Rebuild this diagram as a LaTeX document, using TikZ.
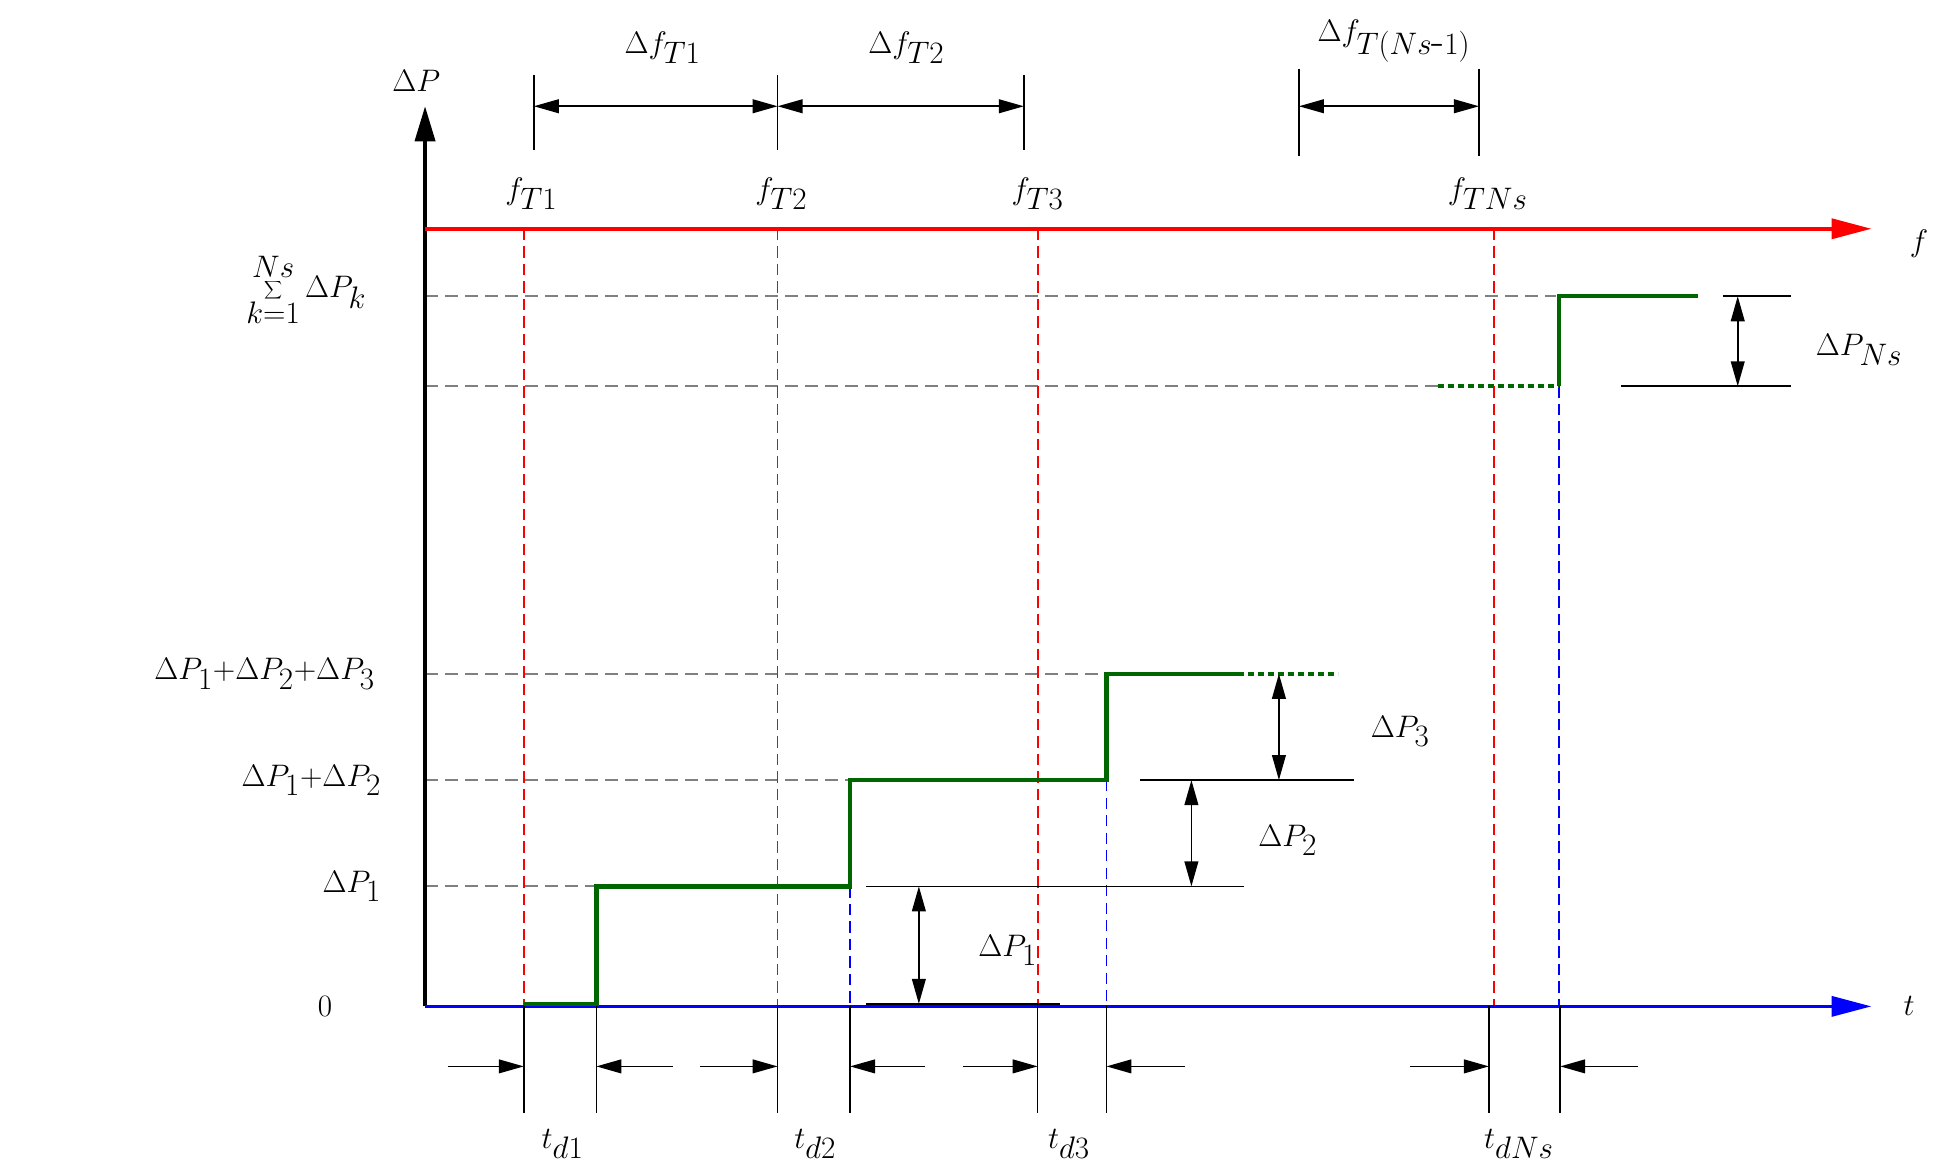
\documentclass[tikz,border=0pt]{standalone}
\usetikzlibrary{arrows.meta}
\begin{document}
\begin{tikzpicture}[x=1pt,y=-1pt,
  lbl/.style={font=\fontsize{34}{38}\selectfont, inner sep=0pt},
  tip/.style={-{Triangle[length=20pt,width=11pt]}},
  dtip/.style={{Triangle[length=20pt,width=11pt]}-{Triangle[length=20pt,width=11pt]}},
  thin/.style={line width=1.3pt,black},
  gdash/.style={gray,line width=1.6pt,dash pattern=on 10pt off 6pt},
  rdash/.style={red,line width=1.4pt,dash pattern=on 9pt off 5pt},
  bdash/.style={blue,line width=1.4pt,dash pattern=on 9pt off 5pt},
  stair/.style={green!40!black,line width=3.5pt},
  dstair/.style={green!40!black,line width=3.5pt,dash pattern=on 5pt off 3pt}]
\useasboundingbox (0,0) rectangle (1559,939);
% gray guides
\draw[gdash] (340,237) -- (1245,237);
\draw[gdash] (340,309) -- (1150,309);
\draw[gdash] (340,539) -- (990,539);
\draw[gdash] (340,624) -- (680,624);
\draw[gdash] (340,709) -- (478,709);
% red dashed
\foreach \x in {419,622,830,1195} \draw[rdash] (\x,183) -- (\x,805);
% blue dashed
\draw[bdash] (680,709) -- (680,805);
\draw[bdash] (885,624) -- (885,805);
\draw[bdash] (1247,309) -- (1247,805);
% axes
\coordinate (o) at (340,805);
\coordinate (ytop) at (340,85);
\coordinate (tend) at (1497,805);
\coordinate (fs) at (340,183);
\coordinate (fend) at (1497,183);
\draw[line width=3pt,-{Triangle[length=28pt,width=16pt]}] (o) -- (ytop);
\draw[blue,line width=3pt,-{Triangle[length=32pt,width=16pt]}] (o) -- (tend);
\draw[red,line width=3pt,-{Triangle[length=32pt,width=16pt]}] (fs) -- (fend);
\node[lbl] (lP) at (333,65) {$\Delta P$};
\node[lbl] (lt) at (1527,805) {$t$};
\node[lbl] (lf) at (1535,195) {$f$};
% staircase
\draw[stair] (419,803) -- (477,803) -- (477,709) -- (680,709) -- (680,624) -- (885,624) -- (885,539) -- (990,539);
\draw[dstair] (990,539) -- (1070,539);
\draw[dstair] (1150,309) -- (1247,309);
\draw[stair] (1247,309) -- (1247,237) -- (1358,237);
% left labels
\node[lbl] (s) at (245,232) {$\displaystyle\sum_{k=1}^{Ns}\Delta P_k$};
\node[lbl,anchor=east] (l3) at (300,539) {$\Delta P_1{+}\Delta P_2{+}\Delta P_3$};
\node[lbl,anchor=east] (l2) at (305,624) {$\Delta P_1{+}\Delta P_2$};
\node[lbl,anchor=east] (l1) at (305,709) {$\Delta P_1$};
\node[lbl] (l0) at (260,805) {$0$};
% f labels
\node[lbl] (f1) at (425,155) {$f_{T1}$};
\node[lbl] (f2) at (625,155) {$f_{T2}$};
\node[lbl] (f3) at (830,155) {$f_{T3}$};
\node[lbl] (fn) at (1190,155) {$f_{TNs}$};
% top dims
\foreach \x in {427,622,819} \draw[thin] (\x,60) -- (\x,120);
\draw[thin] (1039,55) -- (1039,125);
\draw[thin] (1183,55) -- (1183,125);
\coordinate (a1) at (427,85); \coordinate (a2) at (622,85); \coordinate (a3) at (819,85);
\coordinate (a4) at (1039,85); \coordinate (a5) at (1183,85);
\draw[thin,dtip] (a1) -- (a2);
\draw[thin,dtip] (a2) -- (a3);
\draw[thin,dtip] (a4) -- (a5);
\node[lbl] (df1) at (530,38) {$\Delta f_{T1}$};
\node[lbl] (df2) at (725,38) {$\Delta f_{T2}$};
\node[lbl] (dfn) at (1115,33) {$\Delta f_{T(Ns\mbox{-}1)}$};
% right dims
\draw[thin] (693,709) -- (995,709);
\draw[thin] (693,803) -- (848,803);
\draw[thin,dtip] (735,709) -- (735,803);
\node[lbl] (d1) at (806,760) {$\Delta P_1$};
\draw[thin] (912,624) -- (1083,624);
\draw[thin,dtip] (953,624) -- (953,709);
\node[lbl] (d2) at (1030,672) {$\Delta P_2$};
\draw[thin,dtip] (1023,539) -- (1023,624);
\node[lbl] (d3) at (1120,585) {$\Delta P_3$};
\draw[thin] (1378,237) -- (1433,237);
\draw[thin] (1297,309) -- (1433,309);
\draw[thin,dtip] (1390,237) -- (1390,309);
\node[lbl] (dn) at (1487,280) {$\Delta P_{Ns}$};
% bottom
\foreach \x in {419,477,622,680,830,885,1191,1248} \draw[thin] (\x,805) -- (\x,890);
\draw[thin,tip] (358,853) -- (419,853);
\draw[thin,tip] (538,853) -- (477,853);
\draw[thin,tip] (560,853) -- (622,853);
\draw[thin,tip] (740,853) -- (680,853);
\draw[thin,tip] (770,853) -- (830,853);
\draw[thin,tip] (948,853) -- (885,853);
\draw[thin,tip] (1128,853) -- (1191,853);
\draw[thin,tip] (1310,853) -- (1248,853);
\node[lbl] (t1) at (450,915) {$t_{d1}$};
\node[lbl] (t2) at (652,915) {$t_{d2}$};
\node[lbl] (t3) at (855,915) {$t_{d3}$};
\node[lbl] (tn) at (1215,915) {$t_{dNs}$};
\end{tikzpicture}
\end{document}
